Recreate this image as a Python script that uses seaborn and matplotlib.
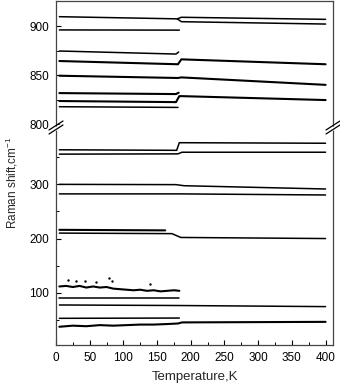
import matplotlib
matplotlib.use("Agg")
import matplotlib.pyplot as plt
from matplotlib.lines import Line2D
from matplotlib.patches import Polygon
import pandas as pd
import seaborn as sns

# ---- data (temperature in K, Raman shift in cm^-1) ----
# upper range (800-925)
m910_t = [5, 180, 186, 400]
m910_v = [909.5, 907.3, 908.9, 906.8]
m904_t = [180, 186, 400]
m904_v = [907.3, 904.4, 902.0]
m896_t = [5, 183]
m896_v = [896.0, 895.8]
m874_t = [5, 178, 182]
m874_v = [874.5, 871.4, 873.5]
m864_t = [5, 181, 186, 400]
m864_v = [864.3, 861.0, 866.0, 861.0]
m849_t = [5, 181, 186, 400]
m849_v = [849.3, 847.0, 847.6, 840.0]
m831_t = [5, 178, 182]
m831_v = [831.6, 830.6, 832.0]
m823_t = [5, 178, 183, 186, 400]
m823_v = [823.5, 822.4, 828.5, 828.5, 824.5]
m817_t = [5, 181]
m817_v = [817.7, 817.0]

# lower range (0-400)
b363_t = [5, 179, 183, 400]
b363_v = [363.0, 362.0, 376.0, 375.0]
b355_t = [5, 181, 187, 400]
b355_v = [355.0, 355.5, 358.5, 358.5]
b299_t = [5, 178, 190, 400]
b299_v = [299.5, 299.0, 297.0, 291.0]
b282_t = [5, 183, 400]
b282_v = [282.0, 282.0, 280.0]
b216_t = [5, 162]
b216_v = [216.0, 215.0]
b210_t = [5, 172, 185, 400]
b210_v = [210.0, 209.0, 202.0, 200.0]
b112_t = [5, 15, 25, 35, 45, 55, 65, 75, 85, 95, 105, 115, 125, 135, 145, 155, 165, 175, 183]
b112_v = [112, 113, 111, 113, 110, 112, 110, 111, 108, 107, 106, 105, 106, 104, 105, 103, 104, 105, 104]
b112_out_t = [18, 30, 43, 60, 78, 83, 140]
b112_out_v = [124, 122, 122, 120, 127, 122, 116]
b90_t = [5, 183]
b90_v = [90.0, 90.0]
b78_t = [5, 183, 400]
b78_v = [78.0, 77.0, 75.0]
b54_t = [5, 183]
b54_v = [53.5, 54.0]
b40_t = [5, 25, 45, 65, 85, 105, 125, 145, 165, 181, 187, 400]
b40_v = [38, 40, 39, 41, 40, 41, 42, 42, 43, 44, 46, 47]

upper_smooth = {"910": (m910_t, m910_v), "904": (m904_t, m904_v), "896": (m896_t, m896_v),
                "874": (m874_t, m874_v), "817": (m817_t, m817_v)}
upper_noisy = {"864": (m864_t, m864_v), "849": (m849_t, m849_v),
               "831": (m831_t, m831_v), "823": (m823_t, m823_v)}
lower_smooth = {"363": (b363_t, b363_v), "355": (b355_t, b355_v), "299": (b299_t, b299_v),
                "282": (b282_t, b282_v), "210": (b210_t, b210_v), "90": (b90_t, b90_v),
                "78": (b78_t, b78_v), "54": (b54_t, b54_v)}
lower_noisy = {"216": (b216_t, b216_v), "112": (b112_t, b112_v), "40": (b40_t, b40_v)}


def to_frame(series):  # long-form table so seaborn can draw one line per mode
    rows = []
    for name, (t, v) in series.items():
        for ti, vi in zip(t, v):
            rows.append({"mode": name, "T": ti, "shift": vi})
    return pd.DataFrame(rows)


sns.set_style("ticks")
plt.rcParams['font.family'] = ['Liberation Sans', 'DejaVu Sans']
plt.rcParams['font.size'] = 8

W, H = 340, 387
fig = plt.figure(figsize=(W / 100, H / 100), dpi=100)
x0, x1 = 56 / W, 333 / W
ax_top = fig.add_axes([x0, 1 - 128 / H, x1 - x0, 127 / H])
ax_bot = fig.add_axes([x0, 1 - 345 / H, x1 - x0, 217 / H])

for ax, smooth, noisy in [(ax_top, upper_smooth, upper_noisy), (ax_bot, lower_smooth, lower_noisy)]:
    sns.lineplot(data=to_frame(smooth), x="T", y="shift", units="mode", estimator=None,
                 sort=False, color="black", lw=1.1, ax=ax)
    sns.lineplot(data=to_frame(noisy), x="T", y="shift", units="mode", estimator=None,
                 sort=False, color="black", lw=1.5, ax=ax)
sns.scatterplot(x=b112_out_t, y=b112_out_v, color="black", s=3, linewidth=0, ax=ax_bot)

spine_col = "#444444"
for ax in (ax_top, ax_bot):
    ax.set_xlim(0, 411)
    ax.set_xlabel("")
    ax.set_ylabel("")
    for s in ax.spines.values():
        s.set_color(spine_col)
        s.set_linewidth(0.9)
    ax.tick_params(direction="in", which="both", colors="black", labelsize=8.5, pad=5)
    ax.tick_params(which="major", length=3.5, width=0.8)
    ax.tick_params(which="minor", length=2, width=0.7)

ax_top.set_ylim(796, 925.5)
ax_top.set_yticks([800, 850, 900])
ax_top.set_yticks([825, 875, 925], minor=True)
ax_top.set_xticks([])
ax_top.spines["bottom"].set_visible(False)

ax_bot.set_ylim(4.5, 403)
ax_bot.set_yticks([100, 200, 300])
ax_bot.set_yticks([50, 150, 250, 350], minor=True)
ax_bot.set_xticks(range(0, 401, 50))
ax_bot.set_xticks(range(25, 401, 50), minor=True)
ax_bot.spines["top"].set_visible(False)

# axis break marks "//" on both side spines
for xc in (56, 333):
    yc = 128
    gap = Polygon([((xc - 6) / W, 1 - (yc + 3) / H), ((xc + 6) / W, 1 - (yc - 5) / H),
                   ((xc + 6) / W, 1 - (yc - 1) / H), ((xc - 6) / W, 1 - (yc + 7) / H)],
                  closed=True, transform=fig.transFigure, facecolor="white", edgecolor="none", zorder=5)
    fig.patches.append(gap)
    for dy in (-2, 2):
        fig.lines.append(Line2D([(xc - 7) / W, (xc + 7) / W],
                                [1 - (yc + 4 + dy) / H, 1 - (yc - 5 + dy) / H],
                                transform=fig.transFigure, color="black", lw=0.9, zorder=6))

fig.text(12 / W, 1 - 183 / H, "Raman shift,cm$^{\\mathregular{-1}}$", rotation=90,
         ha="center", va="center", fontsize=8.5)
fig.text(195 / W, 1 - 377 / H, "Temperature,K", ha="center", va="center", fontsize=9.5)

fig.savefig("out.png", dpi=100)
